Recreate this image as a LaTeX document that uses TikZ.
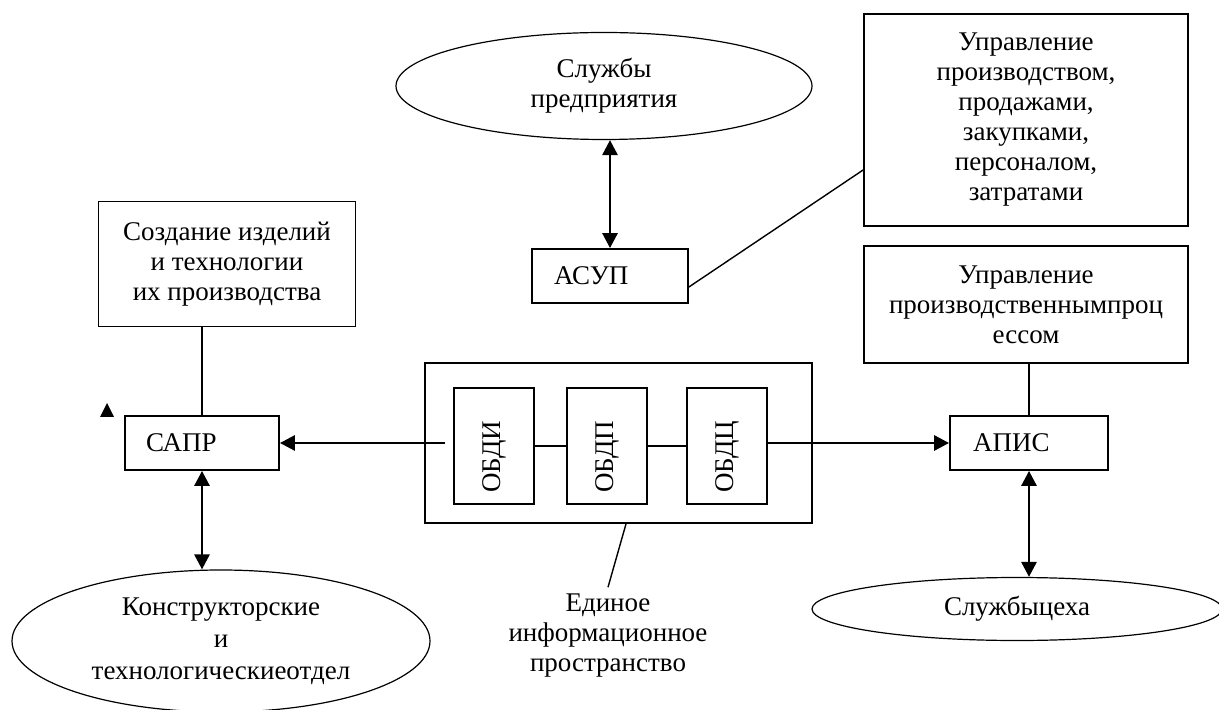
\documentclass[tikz,border=0pt]{standalone}
\usepackage{fontspec}
\setmainfont{Liberation Serif}
\usetikzlibrary{arrows.meta,shapes.geometric,calc}
\newcommand{\dfont}{\fontsize{13.5}{15}\selectfont}
\tikzset{
  >={Triangle[length=7.5pt,width=7.5pt]},
  blok/.style={draw,line width=0.9pt,inner sep=0pt,align=center,font=\dfont},
  knot/.style={blok,minimum width=77pt,minimum height=27pt,text width=56pt,
    align=left,inner xsep=#1},
  knot/.default=11pt,
  oval/.style={ellipse,draw,line width=0.6pt,inner sep=0pt,align=center,font=\dfont},
  dbbox/.style={blok,minimum width=40pt,minimum height=58pt},
  flow/.style={line width=1.4pt},
  link/.style={line width=0.7pt},
  tag/.style={align=center,font=\dfont},
}
\begin{document}
\begin{tikzpicture}[x=0.5pt,y=-0.5pt]
  \useasboundingbox (0,0) rectangle (1219,710);
  % upper part
  \node[oval,minimum width=208pt,minimum height=53.5pt] (slp) at (604,86) {Службы\\предприятия};
  \node[knot] (asup) at (610,276) {АСУП};
  \node[blok,minimum width=162pt,minimum height=106pt] (upr1) at (1026,120)
    {Управление\\производством,\\продажами,\\закупками,\\персоналом,\\затратами};
  \node[blok,minimum width=162pt,minimum height=58.5pt] (upr2) at (1026,304.5)
    {Управление\\производственнымпроц\\ессом};
  \node[blok,minimum width=128.5pt,minimum height=62.5pt] (sozd) at (227,264)
    {Создание изделий\\и технологии\\их производства};
  % middle row
  \node[knot=10.5pt] (sapr) at (202,443) {САПР};
  \node[knot=11.5pt] (apis) at (1029,443) {АПИС};
  \node[blok,minimum width=193.5pt,minimum height=80pt] (eip) at (618.5,443) {};
  \node[dbbox] (obdi) at (494,446) {\rotatebox{90}{ОБДИ\kern11pt}};
  \node[dbbox] (obdp) at (607,446) {\rotatebox{90}{ОБДП\kern11pt}};
  \node[dbbox] (obdc) at (727,446) {\rotatebox{90}{ОБДЦ\kern11pt}};
  \coordinate (vyh) at (445,443);
  % lower part
  \node[oval,minimum width=209pt,minimum height=71pt] (konstr) at (221,641)
    {Конструкторские\\[1pt]и\\[1pt]технологическиеотдел};
  \node[oval,minimum width=205pt,minimum height=31.5pt] (tseh) at (1017,609) {Службыцеха};
  \node[tag] (edin) at (608,636) {Единое\\информационное\\пространство};
  % connectors
  \draw[flow,<->] (slp.south -| asup.north) -- (asup.north);
  \draw[link] ($(asup.east)+(0,11)$) -- ($(upr1.west)+(0,50)$);
  \draw[link] (sozd.south -| sapr.north) -- (sapr.north);
  \draw[link] (upr2.south -| apis.north) -- (apis.north);
  \draw[link] (obdi) -- (obdp);
  \draw[link] (obdp) -- (obdc);
  \draw[flow,->] (vyh) -- (sapr);
  \draw[flow,->] (obdc.east |- apis.west) -- (apis.west);
  \draw[flow,<->] (sapr.south) -- (sapr.south |- konstr.north);
  \draw[flow,<->] (apis.south) -- (apis.south |- tseh.north);
  \draw[link] ($(eip.south)+(7.5,0)$) -- (edin.north);
  \fill (100,417) -- (114,417) -- (107,403) -- cycle;
\end{tikzpicture}
\end{document}
